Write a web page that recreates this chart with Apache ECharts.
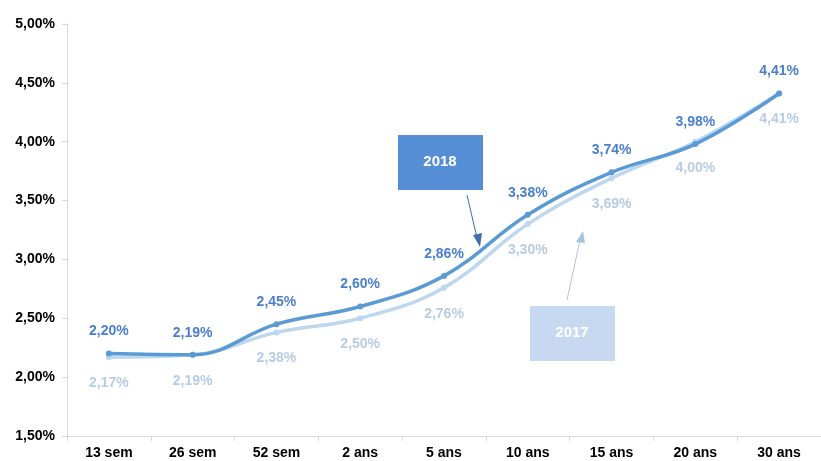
<!DOCTYPE html>
<html><head><meta charset="utf-8">
<script src="https://cdn.jsdelivr.net/npm/echarts@6/dist/echarts.min.js"></script>
<style>html,body{margin:0;padding:0;background:#fff}#c{width:821px;height:461px}</style>
</head><body><div id="c"></div>
<script>
const categories = ['13 sem','26 sem','52 sem','2 ans','5 ans','10 ans','15 ans','20 ans','30 ans'];
const values2018 = [2.20, 2.19, 2.45, 2.60, 2.86, 3.38, 3.74, 3.98, 4.41];
const values2017 = [2.17, 2.19, 2.38, 2.50, 2.76, 3.30, 3.69, 4.00, 4.41];
const yTicks = [1.5, 2.0, 2.5, 3.0, 3.5, 4.0, 4.5, 5.0];

const FONT = '"Liberation Sans Narrow","Arial Narrow","Liberation Sans",Arial,sans-serif';
const fmt = v => v.toFixed(2).replace('.', ',') + '%';

const chart = echarts.init(document.getElementById('c'));
chart.setOption({
  animation: false,
  grid: {left: 67, top: 24, width: 760, height: 412, containLabel: false},
  xAxis: {
    type: 'category', data: categories, boundaryGap: true,
    axisLine: {lineStyle: {color: '#d9d9d9', width: 1}},
    axisTick: {show: true, lineStyle: {color: '#d9d9d9'}, length: 5},
    axisLabel: {color: '#000', fontWeight: 'bold', fontSize: 14, fontFamily: FONT, margin: 10}
  },
  yAxis: {
    type: 'value', min: yTicks[0], max: yTicks[yTicks.length-1], interval: 0.5,
    axisLine: {show: true, lineStyle: {color: '#d9d9d9'}},
    axisTick: {show: true, lineStyle: {color: '#d9d9d9'}, length: 5},
    splitLine: {show: false},
    axisLabel: {color: '#000', fontWeight: 'bold', fontSize: 14, fontFamily: FONT, margin: 12, formatter: v => fmt(v)}
  },
  series: [
    {
      name: '2017', type: 'line', data: values2017, smooth: 0.4,
      symbol: 'circle', symbolSize: 6,
      lineStyle: {color: '#bdd7ee', width: 3.5},
      itemStyle: {color: '#bdd7ee'},
      label: {show: true, position: 'bottom', distance: 16, color: '#b8cce4', fontWeight: 'bold', fontSize: 14, fontFamily: FONT, formatter: p => fmt(p.value)},
      z: 2
    },
    {
      name: '2018', type: 'line', data: values2018, smooth: 0.4,
      symbol: 'circle', symbolSize: 6,
      lineStyle: {color: '#5b9bd5', width: 3.5},
      itemStyle: {color: '#5b9bd5'},
      label: {show: true, position: 'top', distance: 12, color: '#4a7fcf', fontWeight: 'bold', fontSize: 14, fontFamily: FONT, formatter: p => fmt(p.value)},
      z: 3
    }
  ],
  graphic: [
    {type: 'rect', shape: {x: 398, y: 135, width: 85, height: 55}, style: {fill: '#558ed5'}, z: 10},
    {type: 'text', x: 440, y: 162, style: {text: '2018', fill: '#fff', font: 'bold 15px ' + FONT, align: 'center', verticalAlign: 'middle'}, z: 11},
    {type: 'line', shape: {x1: 467, y1: 195, x2: 477, y2: 238}, style: {stroke: '#3f6fb0', lineWidth: 1}, z: 10},
    {type: 'polygon', shape: {points: [[480, 247], [473, 235], [482, 233]]}, style: {fill: '#3f6fb0'}, z: 10},
    {type: 'rect', shape: {x: 530, y: 306, width: 85, height: 55}, style: {fill: '#c6d9f1'}, z: 10},
    {type: 'text', x: 572, y: 333, style: {text: '2017', fill: '#fff', font: 'bold 15px ' + FONT, align: 'center', verticalAlign: 'middle'}, z: 11},
    {type: 'line', shape: {x1: 567, y1: 300, x2: 580, y2: 240}, style: {stroke: '#a9c1e0', lineWidth: 1}, z: 10},
    {type: 'polygon', shape: {points: [[583, 231], [576, 242], [585, 243]]}, style: {fill: '#a9c1e0'}, z: 10}
  ]
});
</script></body></html>
